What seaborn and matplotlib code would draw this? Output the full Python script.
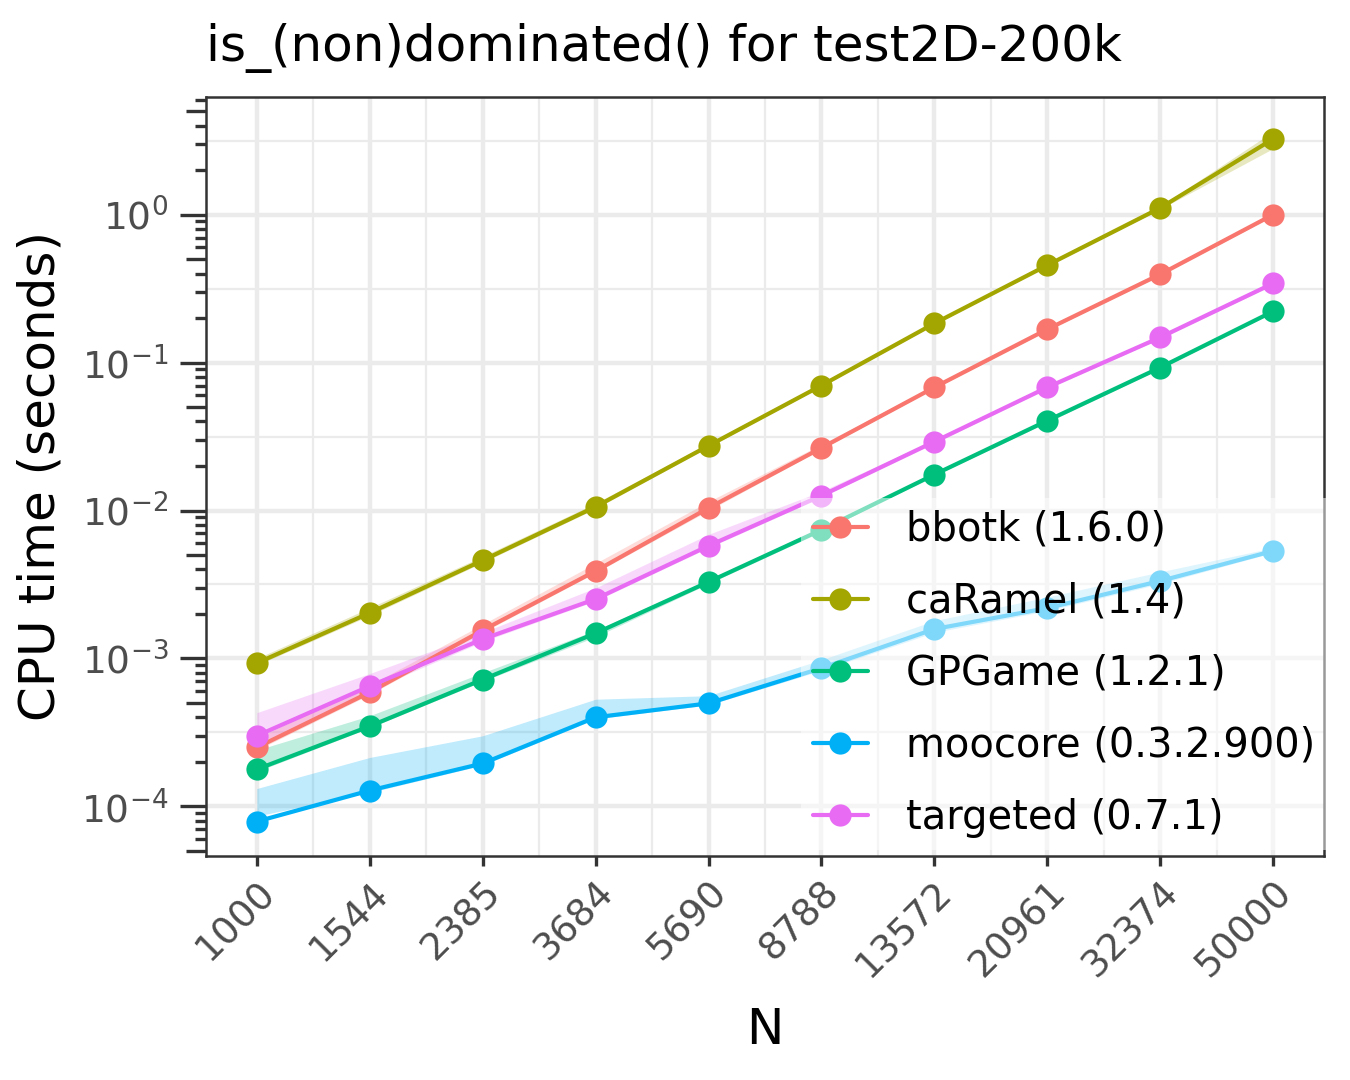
import numpy as np
import pandas as pd
import seaborn as sns
import matplotlib
matplotlib.use("Agg")
from matplotlib import pyplot as plt
from matplotlib.lines import Line2D

# problem sizes
N = [1000, 1544, 2385, 3684, 5690, 8788, 13572, 20961, 32374, 50000]

solvers = ["bbotk (1.6.0)", "caRamel (1.4)", "GPGame (1.2.1)",
           "moocore (0.3.2.900)", "targeted (0.7.1)"]
colors = ["#F8766D", "#A3A500", "#00BF7D", "#00B0F6", "#E76BF3"]

# CPU time (seconds): median line plus lower / upper ribbon
bbotk_med = [2.5e-4, 5.9e-4, 1.55e-3, 3.9e-3, 1.04e-2, 2.65e-2, 6.8e-2, 0.168, 0.395, 1.0]
bbotk_lo = [2.4e-4, 5.7e-4, 1.5e-3, 3.8e-3, 1.0e-2, 2.6e-2, 6.7e-2, 0.165, 0.39, 0.98]
bbotk_hi = [2.9e-4, 6.6e-4, 1.7e-3, 4.4e-3, 1.15e-2, 2.8e-2, 7.0e-2, 0.172, 0.405, 1.03]

caramel_med = [9.3e-4, 2.03e-3, 4.6e-3, 1.06e-2, 2.74e-2, 7.0e-2, 0.184, 0.455, 1.11, 3.25]
caramel_lo = [9.0e-4, 1.95e-3, 4.45e-3, 1.03e-2, 2.68e-2, 6.9e-2, 0.181, 0.45, 1.09, 2.8]
caramel_hi = [1.0e-3, 2.2e-3, 4.9e-3, 1.12e-2, 2.85e-2, 7.2e-2, 0.188, 0.465, 1.14, 3.65]

gpgame_med = [1.78e-4, 3.48e-4, 7.2e-4, 1.48e-3, 3.29e-3, 7.4e-3, 1.75e-2, 4.05e-2, 9.26e-2, 0.222]
gpgame_lo = [1.72e-4, 3.4e-4, 7.0e-4, 1.40e-3, 3.2e-3, 7.2e-3, 1.72e-2, 3.95e-2, 9.1e-2, 0.218]
gpgame_hi = [2.4e-4, 4.1e-4, 8.0e-4, 1.55e-3, 3.4e-3, 7.7e-3, 1.8e-2, 4.15e-2, 9.5e-2, 0.228]

moocore_med = [7.9e-5, 1.28e-4, 1.95e-4, 4.0e-4, 4.97e-4, 8.6e-4, 1.58e-3, 2.19e-3, 3.34e-3, 5.33e-3]
moocore_lo = [8.6e-5, 1.24e-4, 1.9e-4, 3.9e-4, 4.85e-4, 8.3e-4, 1.5e-3, 2.1e-3, 3.2e-3, 5.2e-3]
moocore_hi = [1.32e-4, 2.14e-4, 3.0e-4, 5.3e-4, 5.6e-4, 9.8e-4, 1.8e-3, 2.6e-3, 3.85e-3, 5.6e-3]

targeted_med = [3.0e-4, 6.5e-4, 1.35e-3, 2.52e-3, 5.77e-3, 1.26e-2, 2.92e-2, 6.8e-2, 0.148, 0.343]
targeted_lo = [2.5e-4, 6.1e-4, 1.3e-3, 2.45e-3, 5.6e-3, 1.23e-2, 2.85e-2, 6.65e-2, 0.145, 0.335]
targeted_hi = [4.3e-4, 7.9e-4, 1.5e-3, 3.0e-3, 6.9e-3, 1.35e-2, 3.0e-2, 7.0e-2, 0.152, 0.352]

meds = [bbotk_med, caramel_med, gpgame_med, moocore_med, targeted_med]
los = [bbotk_lo, caramel_lo, gpgame_lo, moocore_lo, targeted_lo]
his = [bbotk_hi, caramel_hi, gpgame_hi, moocore_hi, targeted_hi]

y_decades = [-4, -3, -2, -1, 0]

df = pd.concat([pd.DataFrame({"N": N, "time": m, "solver": s})
                for s, m in zip(solvers, meds)], ignore_index=True)

sns.set_theme(style="white")
plt.rcParams["font.family"] = ["DejaVu Sans"]
plt.rcParams["mathtext.fontset"] = "dejavusans"

fig = plt.figure(figsize=(6.75, 5.4), dpi=200)
ax = fig.add_axes([0.1526, 0.2074, 0.9807 - 0.1526, 0.9102 - 0.2074])
ax.set_xscale("log")
ax.set_yscale("log")

# ggplot-style 5% expansion in log space
lx0, lx1 = np.log10(N[0]), np.log10(N[-1])
ex = 0.05 * (lx1 - lx0)
ax.set_xlim(10 ** (lx0 - ex), 10 ** (lx1 + ex))
ymin = min(min(v) for v in los + meds)
ymax = max(max(v) for v in his + meds)
ly0, ly1 = np.log10(ymin), np.log10(ymax)
ey = 0.05 * (ly1 - ly0)
ax.set_ylim(10 ** (ly0 - ey), 10 ** (ly1 + ey))

# grid lines (major + ggplot midpoint minors)
grid_c = "#EBEBEB"
for x in N:
    ax.axvline(x, color=grid_c, lw=1.6, zorder=0)
for a, b in zip(N[:-1], N[1:]):
    ax.axvline(np.sqrt(a * b), color=grid_c, lw=0.8, zorder=0)
for d in [-5] + y_decades:
    ax.axhline(10.0 ** d, color=grid_c, lw=1.6, zorder=0)
    ax.axhline(10.0 ** (d + 0.5), color=grid_c, lw=0.8, zorder=0)

# ribbons
for s, lo, hi, c in zip(solvers, los, his, colors):
    ax.fill_between(N, lo, hi, color=c, alpha=0.25, lw=0, zorder=1)

sns.lineplot(data=df, x="N", y="time", hue="solver", palette=colors,
             hue_order=solvers, marker="o", markersize=8, markeredgewidth=0,
             linewidth=1.5, errorbar=None, legend=False, ax=ax, zorder=2)

# x ticks
ax.xaxis.set_major_locator(matplotlib.ticker.FixedLocator(N))
ax.xaxis.set_minor_locator(matplotlib.ticker.NullLocator())
ax.set_xticklabels([str(n) for n in N], rotation=45, ha="right",
                   rotation_mode="anchor", fontsize=13.5, color="#4D4D4D")
ax.tick_params(axis="x", which="major", direction="out", length=3.6, width=1.2,
               color="#333333", pad=3, bottom=True)

# y log ticks: long at 10^k, medium at 5x10^k, short otherwise
major_pos = [10.0 ** d for d in y_decades]
mid_pos = [5 * 10.0 ** d for d in [-5] + y_decades]
minor_pos = [m * 10.0 ** d for d in [-5] + y_decades for m in (2, 3, 4, 6, 7, 8, 9)]
ax.yaxis.set_major_locator(matplotlib.ticker.FixedLocator(major_pos + mid_pos))
ax.yaxis.set_minor_locator(matplotlib.ticker.FixedLocator(minor_pos))
ax.yaxis.set_minor_formatter(matplotlib.ticker.NullFormatter())
ylabels = ["$10^{%d}$" % d for d in y_decades] + [""] * len(mid_pos)
ax.set_yticklabels(ylabels, fontsize=13.5, color="#4D4D4D")
ax.tick_params(axis="y", which="major", direction="out", length=9.5, width=1.2,
               color="#333333", pad=4, left=True)
ax.tick_params(axis="y", which="minor", direction="out", length=3.8, width=1.2,
               color="#333333", left=True)
for t, loc in zip(ax.yaxis.get_major_ticks(), major_pos + mid_pos):
    if loc in mid_pos:
        t.tick1line.set_markersize(7.2)

for sp in ax.spines.values():
    sp.set_color("#333333")
    sp.set_linewidth(0.9)
ax.grid(False)

ax.set_xlabel("N", fontsize=18, labelpad=8, color="black")
ax.set_ylabel("CPU time (seconds)", fontsize=18, labelpad=6, color="black")
ax.set_title("is_(non)dominated() for test2D-200k", loc="left", fontsize=18,
             pad=13, color="black")

handles = [Line2D([], [], color=c, lw=1.5, marker="o", markersize=8,
                  markeredgewidth=0) for c in colors]
leg = ax.legend(handles, solvers, loc="lower left", bbox_to_anchor=(0.532, 0.008),
                borderaxespad=0, frameon=True, fancybox=False, facecolor="white",
                framealpha=0.5, edgecolor="none", fontsize=14.4, labelcolor="black",
                handlelength=1.37, handletextpad=0.95, labelspacing=0.8,
                borderpad=0.3)
leg.set_zorder(5)

fig.savefig("out.png", dpi=200)
